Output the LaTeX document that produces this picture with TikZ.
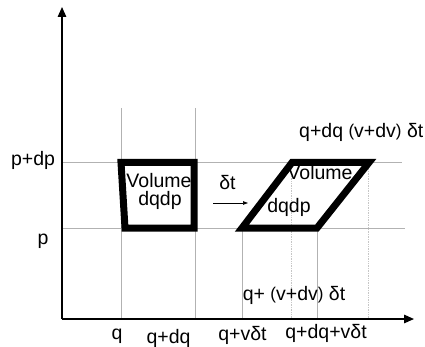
\documentclass[tikz,border=0pt]{standalone}
\usepackage{fontspec}
\setmainfont{Liberation Sans}
\usetikzlibrary{arrows.meta, positioning}
\newcommand{\pOpen}{\raisebox{1.2pt}{\fontsize{17}{17}\selectfont(}}
\newcommand{\pClose}{\raisebox{1.2pt}{\fontsize{17}{17}\selectfont)}}

\begin{document}
\begin{tikzpicture}[x=1pt, y=-1pt,
  axis/.style={line width=1.5pt, -{Triangle[length=10pt, width=8.5pt]}},
  gridline/.style={gray!60, line width=0.8pt},
  dotline/.style={gray!45, line width=0.7pt, densely dotted},
  cell/.style={line width=7pt, line join=miter},
  lbl/.style={font=\fontsize{19.5}{21}\selectfont, anchor=base, inner sep=0pt}]
  \useasboundingbox (0,0) rectangle (425,347);
  \def\ph{162.5}
  \def\pl{228}
  \def\ax{319}
  % grid lines
  \foreach \x in {121,195}{
    \draw[gridline] (\x,108) -- (\x,\ax);
  }
  \foreach \x in {242,317}{
    \draw[gridline] (\x,\pl) -- (\x,\ax);
  }
  \foreach \x in {291,368}{
    \draw[dotline] (\x,\ph) -- (\x,\ax);
  }
  \draw[gridline] (62,\ph) -- (402,\ph);
  \draw[gridline] (62,\pl) -- (405,\pl);
  % axes
  \draw[axis] (62,\ax) -- (62,7);
  \draw[axis] (62,\ax) -- (414,\ax);
  % cell at time t and after dt
  \draw[cell] (121,\ph) -- (194,\ph) -- (194,\pl) -- (125,\pl) -- cycle;
  \draw[cell] (242,\pl) -- (292,\ph) -- (369,\ph) -- (317,\pl) -- cycle;
  \node[lbl] (vola) at (159,188) {Volume};
  \node[lbl] (dqa) at (160,206) {dqdp};
  \node[lbl] (volb) at (320,180) {Volume};
  \node[lbl] (dqb) at (289,213) {dqdp};
  % time step
  \node[lbl] (dt) at (227.5,190) {δt};
  \coordinate (dtl) at (213,203);
  \coordinate (dtr) at (248,203);
  \draw[line width=0.7pt, -{Triangle[length=5pt, width=3.5pt]}] (dtl) -- (dtr);
  % p labels
  \node[lbl] (pdp) at (33,166) {p+dp};
  \node[lbl] (p) at (43,244) {p};
  % q labels
  \node[lbl] (q) at (117,339) {q};
  \node[lbl] (qdq) at (168.5,343) {q+dq};
  \node[lbl] (qvdt) at (242.5,340) {q+vδt};
  \node[lbl] (qdqvdt) at (326,338) {q+dq+vδt};
  \node[lbl] (qdv) at (294,300.5) {q+ \pOpen v+dv\pClose{} δt};
  \node[lbl, anchor=base west] (qdqdv) at (299,138) {q+dq \pOpen v+dv\pClose{} δt};
\end{tikzpicture}
\end{document}
